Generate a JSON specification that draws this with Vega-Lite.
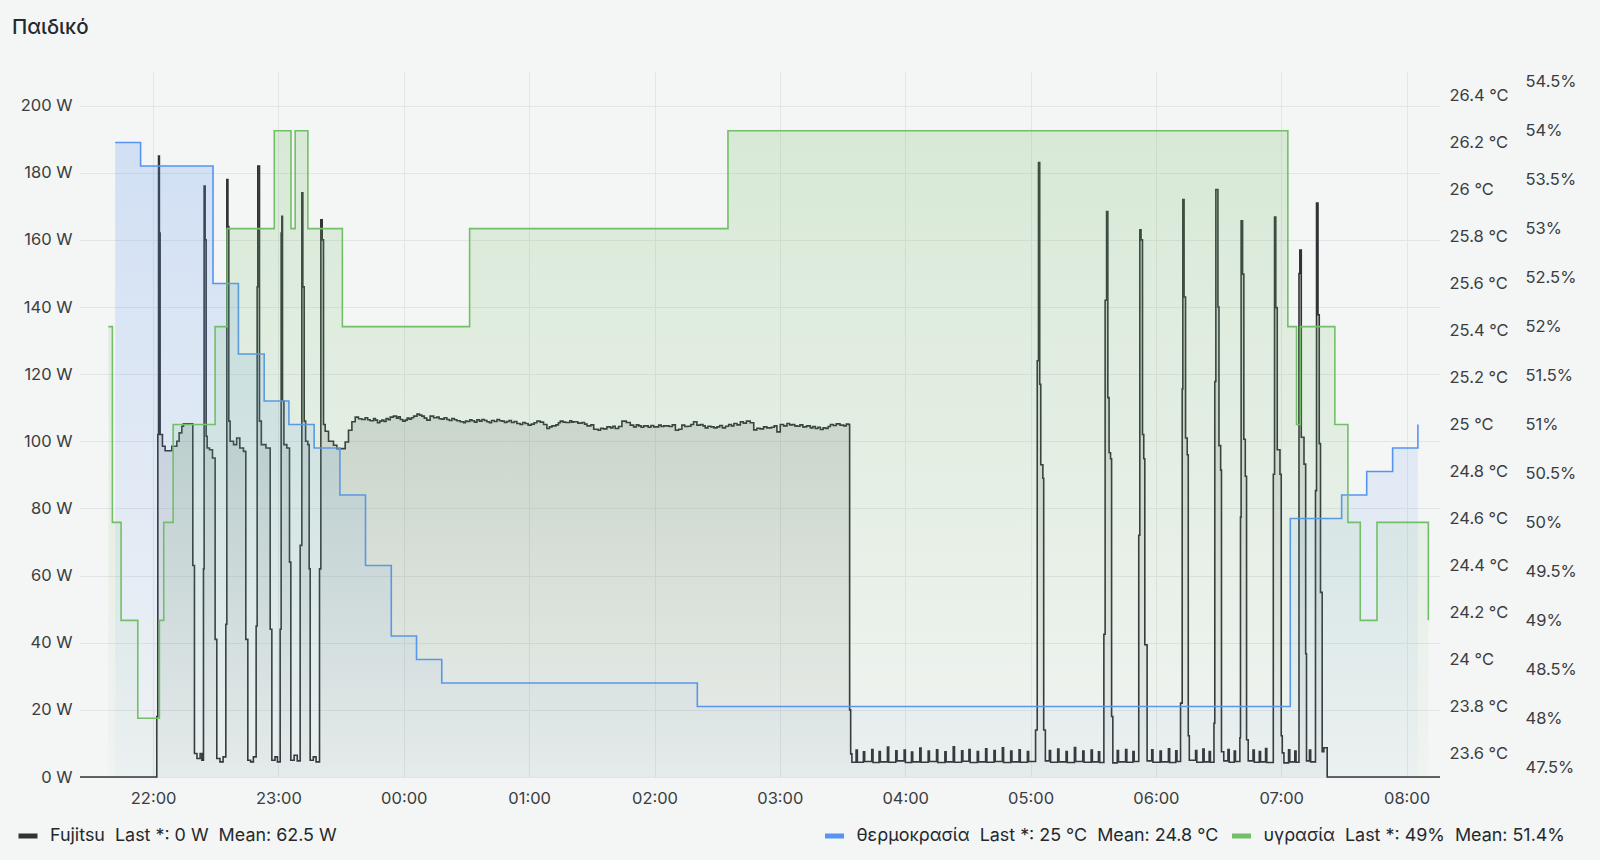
{
  "$schema": "https://vega.github.io/schema/vega-lite/v6.json",
  "width": 1360,
  "height": 705,
  "autosize": "none",
  "padding": {"left": 80, "top": 72, "right": 160, "bottom": 83},
  "background": "#f4f5f5",
  "title": {"text": "Παιδικό", "anchor": "start", "frame": "group", "dx": -68, "offset": 34, "fontSize": 20.5, "fontWeight": 500, "color": "#24292e", "font": "Inter"},
  "config": {
    "font": "Inter",
    "view": {"stroke": null},
    "axis": {"labelFont": "Inter", "labelFontSize": 16.5, "labelColor": "#3a3d41", "ticks": false, "domain": false, "gridColor": "#e3e4e5", "gridWidth": 1, "labelOverlap": false},
    "legend": {"labelFont": "Inter", "labelFontSize": 17.9, "labelColor": "#24292e", "labelLimit": 1000, "labelOffset": 10, "padding": 0, "symbolType": "stroke", "symbolStrokeWidth": 5, "symbolSize": 361, "direction": "horizontal"}
  },
  "layer": [
    {
      "data": {
        "values": [
{"t":"2024-01-01T21:25:00","w":0},{"t":"2024-01-01T22:01:45","w":18},{"t":"2024-01-01T22:02:15","w":102},{"t":"2024-01-01T22:02:36","w":185},{"t":"2024-01-01T22:03:00","w":162},{"t":"2024-01-01T22:03:21","w":102},{"t":"2024-01-01T22:04:28","w":98.5},{"t":"2024-01-01T22:05:45","w":97.2},{"t":"2024-01-01T22:08:56","w":98.5},{"t":"2024-01-01T22:11:20","w":100},{"t":"2024-01-01T22:12:27","w":102.5},{"t":"2024-01-01T22:13:44","w":104.5},{"t":"2024-01-01T22:14:32","w":105.2},{"t":"2024-01-01T22:19:00","w":63},{"t":"2024-01-01T22:19:47","w":7},{"t":"2024-01-01T22:21:00","w":5.5},{"t":"2024-01-01T22:22:30","w":7},{"t":"2024-01-01T22:23:20","w":5},
{"t":"2024-01-01T22:24:06","w":62},{"t":"2024-01-01T22:24:25","w":176},{"t":"2024-01-01T22:24:54","w":160},{"t":"2024-01-01T22:25:23","w":101.5},{"t":"2024-01-01T22:25:52","w":98},{"t":"2024-01-01T22:27:00","w":97.5},{"t":"2024-01-01T22:28:25","w":95},{"t":"2024-01-01T22:29:41","w":41},{"t":"2024-01-01T22:30:29","w":5.5},{"t":"2024-01-01T22:32:00","w":4.5},{"t":"2024-01-01T22:33:30","w":6},
{"t":"2024-01-01T22:34:48","w":45.5},{"t":"2024-01-01T22:35:17","w":178},{"t":"2024-01-01T22:35:48","w":164},{"t":"2024-01-01T22:36:14","w":106},{"t":"2024-01-01T22:36:52","w":100},{"t":"2024-01-01T22:38:30","w":99},{"t":"2024-01-01T22:40:00","w":101},{"t":"2024-01-01T22:41:30","w":98},{"t":"2024-01-01T22:43:16","w":97},{"t":"2024-01-01T22:44:22","w":41},{"t":"2024-01-01T22:45:20","w":5},{"t":"2024-01-01T22:46:40","w":4.5},{"t":"2024-01-01T22:48:00","w":6},
{"t":"2024-01-01T22:49:19","w":45},{"t":"2024-01-01T22:49:48","w":146},{"t":"2024-01-01T22:50:07","w":182},{"t":"2024-01-01T22:50:55","w":106},{"t":"2024-01-01T22:51:48","w":99},{"t":"2024-01-01T22:54:00","w":98},{"t":"2024-01-01T22:56:02","w":44},{"t":"2024-01-01T22:56:50","w":5},{"t":"2024-01-01T22:58:20","w":6},{"t":"2024-01-01T22:59:30","w":4.5},
{"t":"2024-01-01T23:00:49","w":44},{"t":"2024-01-01T23:01:17","w":162},{"t":"2024-01-01T23:01:37","w":167},{"t":"2024-01-01T23:01:56","w":112},{"t":"2024-01-01T23:02:36","w":99},{"t":"2024-01-01T23:04:00","w":98},{"t":"2024-01-01T23:05:17","w":64},{"t":"2024-01-01T23:05:55","w":5},{"t":"2024-01-01T23:07:30","w":6.5},{"t":"2024-01-01T23:09:00","w":4.8},
{"t":"2024-01-01T23:10:23","w":69},{"t":"2024-01-01T23:11:11","w":174},{"t":"2024-01-01T23:11:40","w":146},{"t":"2024-01-01T23:12:19","w":106},{"t":"2024-01-01T23:13:00","w":100},{"t":"2024-01-01T23:14:04","w":99},{"t":"2024-01-01T23:14:42","w":62},{"t":"2024-01-01T23:15:11","w":5},{"t":"2024-01-01T23:16:40","w":6},{"t":"2024-01-01T23:18:00","w":4.5},
{"t":"2024-01-01T23:19:39","w":62},{"t":"2024-01-01T23:20:17","w":166},{"t":"2024-01-01T23:20:56","w":160},{"t":"2024-01-01T23:21:34","w":105},{"t":"2024-01-01T23:22:22","w":103},{"t":"2024-01-01T23:23:58","w":100},{"t":"2024-01-01T23:26:21","w":98.8},{"t":"2024-01-01T23:27:57","w":97.8},{"t":"2024-01-01T23:31:56","w":99.8},{"t":"2024-01-01T23:33:31","w":103.3},{"t":"2024-01-01T23:35:09","w":105.8},{"t":"2024-01-01T23:36:44","w":107.2},
{"t":"2024-01-01T23:38:18","w":106.7},{"t":"2024-01-01T23:39:54","w":106.5},{"t":"2024-01-01T23:41:30","w":107.0},{"t":"2024-01-01T23:42:42","w":106.4},{"t":"2024-01-01T23:43:54","w":106.1},{"t":"2024-01-01T23:45:30","w":106.8},{"t":"2024-01-01T23:46:24","w":106.3},{"t":"2024-01-01T23:47:24","w":105.5},{"t":"2024-01-01T23:48:30","w":106.0},{"t":"2024-01-01T23:49:30","w":106.3},{"t":"2024-01-01T23:50:30","w":105.9},{"t":"2024-01-01T23:51:30","w":106.8},{"t":"2024-01-01T23:52:30","w":106.4},{"t":"2024-01-01T23:53:30","w":107.2},{"t":"2024-01-01T23:55:00","w":107.5},{"t":"2024-01-01T23:56:30","w":106.9},{"t":"2024-01-01T23:57:24","w":107.3},{"t":"2024-01-01T23:58:18","w":106.5},{"t":"2024-01-01T23:59:30","w":106.0},
{"t":"2024-01-02T00:00:42","w":106.3},{"t":"2024-01-02T00:01:36","w":106.9},{"t":"2024-01-02T00:02:30","w":106.6},{"t":"2024-01-02T00:03:36","w":107.0},{"t":"2024-01-02T00:04:42","w":107.5},{"t":"2024-01-02T00:06:18","w":108.1},{"t":"2024-01-02T00:07:30","w":107.8},{"t":"2024-01-02T00:08:36","w":107.5},{"t":"2024-01-02T00:09:48","w":106.9},{"t":"2024-01-02T00:11:00","w":106.3},{"t":"2024-01-02T00:12:36","w":107.5},{"t":"2024-01-02T00:14:18","w":107.0},{"t":"2024-01-02T00:15:48","w":107.2},{"t":"2024-01-02T00:16:54","w":106.7},{"t":"2024-01-02T00:18:00","w":106.6},{"t":"2024-01-02T00:19:18","w":107.0},{"t":"2024-01-02T00:20:36","w":106.5},{"t":"2024-01-02T00:21:48","w":106.2},{"t":"2024-01-02T00:23:00","w":106.8},{"t":"2024-01-02T00:24:12","w":106.4},{"t":"2024-01-02T00:25:24","w":106.1},{"t":"2024-01-02T00:27:00","w":105.8},{"t":"2024-01-02T00:28:36","w":105.5},{"t":"2024-01-02T00:29:30","w":106.0},{"t":"2024-01-02T00:30:30","w":105.9},{"t":"2024-01-02T00:31:36","w":106.4},{"t":"2024-01-02T00:32:36","w":106.1},{"t":"2024-01-02T00:33:48","w":105.7},{"t":"2024-01-02T00:35:00","w":106.4},{"t":"2024-01-02T00:36:12","w":106.0},{"t":"2024-01-02T00:37:24","w":106.5},{"t":"2024-01-02T00:38:36","w":106.2},{"t":"2024-01-02T00:39:48","w":105.8},{"t":"2024-01-02T00:41:00","w":105.5},{"t":"2024-01-02T00:42:00","w":106.2},{"t":"2024-01-02T00:43:18","w":105.9},{"t":"2024-01-02T00:44:36","w":106.5},{"t":"2024-01-02T00:45:48","w":106.1},{"t":"2024-01-02T00:47:00","w":106.0},{"t":"2024-01-02T00:48:12","w":105.6},{"t":"2024-01-02T00:49:18","w":105.9},{"t":"2024-01-02T00:50:24","w":106.2},{"t":"2024-01-02T00:51:30","w":105.6},{"t":"2024-01-02T00:52:48","w":105.9},{"t":"2024-01-02T00:54:06","w":105.3},{"t":"2024-01-02T00:55:42","w":105.0},{"t":"2024-01-02T00:56:54","w":105.6},{"t":"2024-01-02T00:58:06","w":105.3},{"t":"2024-01-02T00:59:30","w":104.8},
{"t":"2024-01-02T01:01:00","w":105.1},{"t":"2024-01-02T01:02:24","w":105.5},{"t":"2024-01-02T01:03:42","w":106.0},{"t":"2024-01-02T01:05:18","w":105.7},{"t":"2024-01-02T01:06:54","w":105.0},{"t":"2024-01-02T01:08:30","w":103.8},{"t":"2024-01-02T01:09:42","w":104.3},{"t":"2024-01-02T01:10:54","w":104.6},{"t":"2024-01-02T01:12:48","w":104.9},{"t":"2024-01-02T01:14:00","w":105.5},{"t":"2024-01-02T01:14:54","w":106.0},{"t":"2024-01-02T01:16:12","w":105.7},{"t":"2024-01-02T01:17:30","w":105.6},{"t":"2024-01-02T01:19:30","w":106.1},{"t":"2024-01-02T01:20:24","w":105.7},{"t":"2024-01-02T01:21:18","w":105.8},{"t":"2024-01-02T01:23:18","w":105.4},{"t":"2024-01-02T01:25:18","w":105.6},{"t":"2024-01-02T01:26:30","w":105.1},{"t":"2024-01-02T01:27:42","w":104.6},{"t":"2024-01-02T01:29:30","w":104.9},{"t":"2024-01-02T01:30:54","w":103.6},{"t":"2024-01-02T01:33:00","w":103.3},{"t":"2024-01-02T01:34:12","w":103.9},{"t":"2024-01-02T01:35:30","w":103.7},{"t":"2024-01-02T01:37:12","w":104.3},{"t":"2024-01-02T01:39:00","w":104.0},{"t":"2024-01-02T01:40:06","w":104.5},{"t":"2024-01-02T01:41:12","w":103.8},{"t":"2024-01-02T01:42:48","w":104.4},{"t":"2024-01-02T01:44:24","w":106.0},{"t":"2024-01-02T01:46:30","w":105.6},{"t":"2024-01-02T01:48:24","w":104.8},{"t":"2024-01-02T01:50:00","w":104.3},{"t":"2024-01-02T01:51:18","w":104.9},{"t":"2024-01-02T01:52:30","w":104.6},{"t":"2024-01-02T01:53:36","w":104.2},{"t":"2024-01-02T01:54:48","w":104.6},{"t":"2024-01-02T01:57:00","w":104.2},{"t":"2024-01-02T01:58:18","w":104.7},{"t":"2024-01-02T01:59:36","w":104.3},
{"t":"2024-01-02T02:02:00","w":104.8},{"t":"2024-01-02T02:03:12","w":104.4},{"t":"2024-01-02T02:04:24","w":104.6},{"t":"2024-01-02T02:07:00","w":104.4},{"t":"2024-01-02T02:08:30","w":104.9},{"t":"2024-01-02T02:10:00","w":103.3},{"t":"2024-01-02T02:11:30","w":103.6},{"t":"2024-01-02T02:13:06","w":104.8},{"t":"2024-01-02T02:14:30","w":104.4},{"t":"2024-01-02T02:16:00","w":104.5},{"t":"2024-01-02T02:17:24","w":105.0},{"t":"2024-01-02T02:18:42","w":105.8},{"t":"2024-01-02T02:20:18","w":104.8},{"t":"2024-01-02T02:22:00","w":105.0},{"t":"2024-01-02T02:23:12","w":104.6},{"t":"2024-01-02T02:24:18","w":104.0},{"t":"2024-01-02T02:25:36","w":104.5},{"t":"2024-01-02T02:27:00","w":104.3},{"t":"2024-01-02T02:28:30","w":104.0},{"t":"2024-01-02T02:29:54","w":104.3},{"t":"2024-01-02T02:31:12","w":104.7},{"t":"2024-01-02T02:32:30","w":104.0},{"t":"2024-01-02T02:34:00","w":104.5},{"t":"2024-01-02T02:35:30","w":105.0},{"t":"2024-01-02T02:36:48","w":104.6},{"t":"2024-01-02T02:38:00","w":105.3},{"t":"2024-01-02T02:39:30","w":104.9},{"t":"2024-01-02T02:41:06","w":105.8},{"t":"2024-01-02T02:42:30","w":105.4},{"t":"2024-01-02T02:44:00","w":106.0},{"t":"2024-01-02T02:45:48","w":105.5},{"t":"2024-01-02T02:47:30","w":103.4},{"t":"2024-01-02T02:49:00","w":103.9},{"t":"2024-01-02T02:50:30","w":103.7},{"t":"2024-01-02T02:52:12","w":104.3},{"t":"2024-01-02T02:53:48","w":104.0},{"t":"2024-01-02T02:56:00","w":104.2},{"t":"2024-01-02T02:57:18","w":104.6},{"t":"2024-01-02T02:58:36","w":102.8},
{"t":"2024-01-02T03:00:12","w":105.0},{"t":"2024-01-02T03:01:48","w":104.6},{"t":"2024-01-02T03:03:24","w":105.3},{"t":"2024-01-02T03:04:42","w":104.9},{"t":"2024-01-02T03:06:00","w":105.0},{"t":"2024-01-02T03:07:06","w":104.6},{"t":"2024-01-02T03:08:12","w":104.5},{"t":"2024-01-02T03:09:36","w":104.9},{"t":"2024-01-02T03:11:00","w":104.3},{"t":"2024-01-02T03:12:48","w":104.6},{"t":"2024-01-02T03:14:36","w":104.0},{"t":"2024-01-02T03:15:48","w":104.4},{"t":"2024-01-02T03:17:00","w":103.8},{"t":"2024-01-02T03:18:12","w":104.2},{"t":"2024-01-02T03:19:24","w":103.5},{"t":"2024-01-02T03:20:42","w":104.0},{"t":"2024-01-02T03:22:00","w":103.8},{"t":"2024-01-02T03:23:06","w":104.4},{"t":"2024-01-02T03:24:12","w":105.0},{"t":"2024-01-02T03:25:36","w":104.7},{"t":"2024-01-02T03:27:00","w":105.2},{"t":"2024-01-02T03:28:48","w":104.8},{"t":"2024-01-02T03:30:36","w":104.6},{"t":"2024-01-02T03:31:48","w":105.1},{"t":"2024-01-02T03:33:00","w":105.0},{"t":"2024-01-02T03:33:24","w":20},{"t":"2024-01-02T03:33:54","w":6.9},{"t":"2024-01-02T03:34:30","w":4.4},
{"t":"2024-01-02T03:36:30","w":8},{"t":"2024-01-02T03:37:06","w":4.4},{"t":"2024-01-02T03:40:00","w":7.5},{"t":"2024-01-02T03:40:36","w":4.6},{"t":"2024-01-02T03:44:00","w":8.2},{"t":"2024-01-02T03:44:36","w":4.3},{"t":"2024-01-02T03:47:30","w":7.6},{"t":"2024-01-02T03:48:06","w":4.5},{"t":"2024-01-02T03:51:30","w":8.9},{"t":"2024-01-02T03:52:06","w":4.4},{"t":"2024-01-02T03:55:30","w":7.8},{"t":"2024-01-02T03:56:06","w":4.8},{"t":"2024-01-02T03:59:30","w":8.0},{"t":"2024-01-02T04:00:06","w":4.3},{"t":"2024-01-02T04:03:00","w":7.4},{"t":"2024-01-02T04:03:36","w":4.5},{"t":"2024-01-02T04:07:00","w":8.6},{"t":"2024-01-02T04:07:36","w":4.4},{"t":"2024-01-02T04:11:00","w":7.7},{"t":"2024-01-02T04:11:36","w":4.6},{"t":"2024-01-02T04:15:00","w":8.1},{"t":"2024-01-02T04:15:36","w":4.3},{"t":"2024-01-02T04:19:00","w":7.5},{"t":"2024-01-02T04:19:36","w":4.5},{"t":"2024-01-02T04:23:00","w":9.0},{"t":"2024-01-02T04:23:36","w":4.4},{"t":"2024-01-02T04:27:00","w":7.8},{"t":"2024-01-02T04:27:36","w":4.7},{"t":"2024-01-02T04:30:30","w":8.2},{"t":"2024-01-02T04:31:06","w":4.3},{"t":"2024-01-02T04:34:30","w":7.6},{"t":"2024-01-02T04:35:06","w":4.5},{"t":"2024-01-02T04:38:30","w":8.4},{"t":"2024-01-02T04:39:06","w":4.4},{"t":"2024-01-02T04:42:30","w":7.9},{"t":"2024-01-02T04:43:06","w":4.6},{"t":"2024-01-02T04:46:30","w":8.7},{"t":"2024-01-02T04:47:06","w":4.3},{"t":"2024-01-02T04:50:30","w":7.7},{"t":"2024-01-02T04:51:06","w":4.5},{"t":"2024-01-02T04:54:30","w":8.1},{"t":"2024-01-02T04:55:06","w":4.4},{"t":"2024-01-02T04:58:30","w":7.6},{"t":"2024-01-02T04:59:06","w":4.6},
{"t":"2024-01-02T05:02:24","w":14},{"t":"2024-01-02T05:03:12","w":124},{"t":"2024-01-02T05:03:48","w":183},{"t":"2024-01-02T05:04:24","w":117},{"t":"2024-01-02T05:04:54","w":93},{"t":"2024-01-02T05:05:54","w":89},{"t":"2024-01-02T05:06:18","w":14},{"t":"2024-01-02T05:07:06","w":4.8},
{"t":"2024-01-02T05:09:00","w":7.9},{"t":"2024-01-02T05:09:36","w":4.4},{"t":"2024-01-02T05:13:00","w":8.3},{"t":"2024-01-02T05:13:36","w":4.5},{"t":"2024-01-02T05:17:00","w":7.6},{"t":"2024-01-02T05:17:36","w":4.3},{"t":"2024-01-02T05:21:00","w":8.8},{"t":"2024-01-02T05:21:36","w":4.6},{"t":"2024-01-02T05:25:00","w":7.7},{"t":"2024-01-02T05:25:36","w":4.4},{"t":"2024-01-02T05:29:00","w":8.0},{"t":"2024-01-02T05:29:36","w":4.5},{"t":"2024-01-02T05:32:30","w":7.5},{"t":"2024-01-02T05:33:06","w":4.3},
{"t":"2024-01-02T05:35:06","w":42.5},{"t":"2024-01-02T05:35:42","w":142},{"t":"2024-01-02T05:36:24","w":168.4},{"t":"2024-01-02T05:37:00","w":113},{"t":"2024-01-02T05:37:36","w":96.6},{"t":"2024-01-02T05:38:18","w":94.8},{"t":"2024-01-02T05:38:48","w":18},{"t":"2024-01-02T05:39:24","w":4.2},
{"t":"2024-01-02T05:41:30","w":7.9},{"t":"2024-01-02T05:42:06","w":4.5},{"t":"2024-01-02T05:45:30","w":8.2},{"t":"2024-01-02T05:46:06","w":4.4},{"t":"2024-01-02T05:49:00","w":7.6},{"t":"2024-01-02T05:49:36","w":4.6},
{"t":"2024-01-02T05:51:48","w":72},{"t":"2024-01-02T05:52:18","w":163},{"t":"2024-01-02T05:52:54","w":160},{"t":"2024-01-02T05:53:36","w":102},{"t":"2024-01-02T05:54:12","w":94.8},{"t":"2024-01-02T05:54:42","w":39.4},{"t":"2024-01-02T05:55:48","w":4.8},
{"t":"2024-01-02T05:58:00","w":8.1},{"t":"2024-01-02T05:58:36","w":4.4},{"t":"2024-01-02T06:02:00","w":7.7},{"t":"2024-01-02T06:02:36","w":4.5},{"t":"2024-01-02T06:06:00","w":8.4},{"t":"2024-01-02T06:06:36","w":4.3},{"t":"2024-01-02T06:09:30","w":7.8},{"t":"2024-01-02T06:10:06","w":4.6},
{"t":"2024-01-02T06:11:48","w":22},{"t":"2024-01-02T06:12:36","w":115.6},{"t":"2024-01-02T06:12:54","w":172},{"t":"2024-01-02T06:13:30","w":143},{"t":"2024-01-02T06:14:12","w":101},{"t":"2024-01-02T06:15:00","w":96},{"t":"2024-01-02T06:15:30","w":12.3},{"t":"2024-01-02T06:16:00","w":5},
{"t":"2024-01-02T06:19:00","w":7.9},{"t":"2024-01-02T06:19:36","w":4.4},{"t":"2024-01-02T06:22:30","w":8.3},{"t":"2024-01-02T06:23:06","w":4.5},{"t":"2024-01-02T06:25:30","w":7.6},{"t":"2024-01-02T06:26:06","w":4.4},
{"t":"2024-01-02T06:27:48","w":16},{"t":"2024-01-02T06:28:12","w":117.8},{"t":"2024-01-02T06:28:42","w":175},{"t":"2024-01-02T06:29:42","w":140},{"t":"2024-01-02T06:30:12","w":98.7},{"t":"2024-01-02T06:31:00","w":91.4},{"t":"2024-01-02T06:31:24","w":7.5},{"t":"2024-01-02T06:32:30","w":4.8},
{"t":"2024-01-02T06:34:30","w":8.2},{"t":"2024-01-02T06:35:06","w":4.4},{"t":"2024-01-02T06:37:30","w":7.7},{"t":"2024-01-02T06:38:06","w":4.6},
{"t":"2024-01-02T06:40:12","w":11.7},{"t":"2024-01-02T06:40:30","w":77.4},{"t":"2024-01-02T06:40:48","w":165.7},{"t":"2024-01-02T06:41:30","w":149.8},{"t":"2024-01-02T06:42:06","w":100.6},{"t":"2024-01-02T06:42:48","w":89.6},{"t":"2024-01-02T06:43:24","w":11.1},{"t":"2024-01-02T06:44:12","w":4.8},
{"t":"2024-01-02T06:46:30","w":8.0},{"t":"2024-01-02T06:47:06","w":4.4},{"t":"2024-01-02T06:49:30","w":7.6},{"t":"2024-01-02T06:50:06","w":4.5},{"t":"2024-01-02T06:52:30","w":8.5},{"t":"2024-01-02T06:53:06","w":4.3},
{"t":"2024-01-02T06:56:12","w":90.2},{"t":"2024-01-02T06:56:48","w":166.8},{"t":"2024-01-02T06:57:24","w":139.8},{"t":"2024-01-02T06:58:06","w":97.5},{"t":"2024-01-02T06:59:24","w":90.2},{"t":"2024-01-02T07:00:00","w":12.3},{"t":"2024-01-02T07:00:30","w":7.2},{"t":"2024-01-02T07:01:18","w":4.2},
{"t":"2024-01-02T07:03:30","w":8.1},{"t":"2024-01-02T07:04:06","w":4.5},{"t":"2024-01-02T07:06:30","w":7.7},{"t":"2024-01-02T07:07:06","w":4.4},
{"t":"2024-01-02T07:08:30","w":150},{"t":"2024-01-02T07:08:54","w":157},{"t":"2024-01-02T07:09:36","w":101.2},{"t":"2024-01-02T07:10:54","w":93.2},{"t":"2024-01-02T07:11:42","w":36.7},{"t":"2024-01-02T07:12:06","w":4.8},
{"t":"2024-01-02T07:13:30","w":8.0},{"t":"2024-01-02T07:14:06","w":4.5},
{"t":"2024-01-02T07:16:24","w":85.3},{"t":"2024-01-02T07:16:54","w":171},{"t":"2024-01-02T07:17:36","w":137.7},{"t":"2024-01-02T07:18:12","w":99.3},{"t":"2024-01-02T07:18:48","w":55},{"t":"2024-01-02T07:19:36","w":7.5},{"t":"2024-01-02T07:20:24","w":8.7},{"t":"2024-01-02T07:22:00","w":0},{"t":"2024-01-02T08:16:00","w":0}
        ]
      },
      "layer": [
        {
          "mark": {"type": "area", "interpolate": "step-after", "opacity": 1, "clip": true,
            "color": {"gradient": "linear", "x1": 0, "y1": 0, "x2": 0, "y2": 1, "stops": [{"offset": 0, "color": "rgba(48,51,54,0.22)"}, {"offset": 1, "color": "rgba(48,51,54,0.03)"}]}},
          "encoding": {
            "x": {"field": "t", "type": "temporal", "scale": {"nice": false},
              "axis": {"title": null, "grid": true, "format": "%H:%M", "labelPadding": 13.5, "labelFlush": false,
                "values": [{"year": 2024, "month": 1, "date": 1, "hours": 22}, {"year": 2024, "month": 1, "date": 1, "hours": 23}, {"year": 2024, "month": 1, "date": 2, "hours": 0}, {"year": 2024, "month": 1, "date": 2, "hours": 1}, {"year": 2024, "month": 1, "date": 2, "hours": 2}, {"year": 2024, "month": 1, "date": 2, "hours": 3}, {"year": 2024, "month": 1, "date": 2, "hours": 4}, {"year": 2024, "month": 1, "date": 2, "hours": 5}, {"year": 2024, "month": 1, "date": 2, "hours": 6}, {"year": 2024, "month": 1, "date": 2, "hours": 7}, {"year": 2024, "month": 1, "date": 2, "hours": 8}]}},
            "y": {"field": "w", "type": "quantitative", "scale": {"domain": [0, 210], "nice": false},
              "axis": {"title": null, "orient": "left", "values": [0, 20, 40, 60, 80, 100, 120, 140, 160, 180, 200], "labelExpr": "datum.value + ' W'", "grid": true, "labelPadding": 8}}
          }
        },
        {
          "mark": {"type": "line", "interpolate": "step-after", "strokeWidth": 1.6},
          "encoding": {
            "x": {"field": "t", "type": "temporal"},
            "y": {"field": "w", "type": "quantitative"},
            "color": {"datum": "Fujitsu\u00a0\u00a0Last *: 0 W\u00a0\u00a0Mean: 62.5 W", "type": "nominal",
              "scale": {"domain": ["Fujitsu\u00a0\u00a0Last *: 0 W\u00a0\u00a0Mean: 62.5 W"], "range": ["#303336"]},
              "legend": {"title": null, "orient": "none", "legendX": -64, "legendY": 752}}
          }
        }
      ]
    },
    {
      "layer": [
        {
          "data": {
            "values": [
{"t":"2024-01-01T21:41:50","v":26.2},{"t":"2024-01-01T21:54:00","v":26.1},{"t":"2024-01-01T22:28:40","v":25.6},{"t":"2024-01-01T22:40:50","v":25.3},{"t":"2024-01-01T22:53:10","v":25.1},{"t":"2024-01-01T23:05:00","v":25.0},{"t":"2024-01-01T23:17:05","v":24.9},{"t":"2024-01-01T23:29:25","v":24.7},{"t":"2024-01-01T23:41:40","v":24.4},{"t":"2024-01-01T23:54:00","v":24.1},{"t":"2024-01-02T00:06:05","v":24.0},{"t":"2024-01-02T00:18:10","v":23.9},{"t":"2024-01-02T02:20:30","v":23.8},{"t":"2024-01-02T07:04:20","v":24.6},{"t":"2024-01-02T07:28:55","v":24.7},{"t":"2024-01-02T07:40:55","v":24.8},{"t":"2024-01-02T07:53:20","v":24.9},{"t":"2024-01-02T08:05:25","v":25.0}
            ]
          },
          "layer": [
            {
              "mark": {"type": "area", "interpolate": "step-after", "opacity": 1, "clip": true,
                "color": {"gradient": "linear", "x1": 0, "y1": 0, "x2": 0, "y2": 1, "stops": [{"offset": 0, "color": "rgba(87,148,242,0.22)"}, {"offset": 1, "color": "rgba(87,148,242,0.03)"}]}},
              "encoding": {
                "x": {"field": "t", "type": "temporal"},
                "y": {"field": "v", "type": "quantitative", "scale": {"domain": [23.5, 26.5], "nice": false, "zero": false},
                  "axis": {"title": null, "orient": "right", "offset": 0, "values": [23.6, 23.8, 24, 24.2, 24.4, 24.6, 24.8, 25, 25.2, 25.4, 25.6, 25.8, 26, 26.2, 26.4], "labelExpr": "format(datum.value, '.1~f') + ' °C'", "grid": false, "labelPadding": 9, "labelAlign": "left"}},
                "y2": {"datum": 23.5}
              }
            },
            {
              "mark": {"type": "line", "interpolate": "step-after", "strokeWidth": 1.6},
              "encoding": {
                "x": {"field": "t", "type": "temporal"},
                "y": {"field": "v", "type": "quantitative"},
                "color": {"datum": "θερμοκρασία\u00a0\u00a0Last *: 25 °C\u00a0\u00a0Mean: 24.8 °C", "type": "nominal",
                  "scale": {"domain": ["θερμοκρασία\u00a0\u00a0Last *: 25 °C\u00a0\u00a0Mean: 24.8 °C", "υγρασία\u00a0\u00a0Last *: 49%\u00a0\u00a0Mean: 51.4%"], "range": ["#5794F2", "#73BF69"]},
                  "legend": {"title": null, "orient": "none", "legendX": 742.5, "legendY": 752, "columnPadding": 3}}
              }
            }
          ]
        },
        {
          "data": {
            "values": [
{"t":"2024-01-01T21:38:35","v":52.0},{"t":"2024-01-01T21:40:30","v":50.0},{"t":"2024-01-01T21:44:40","v":49.0},{"t":"2024-01-01T21:52:40","v":48.0},{"t":"2024-01-01T22:03:00","v":49.0},{"t":"2024-01-01T22:05:05","v":50.0},{"t":"2024-01-01T22:09:35","v":51.0},{"t":"2024-01-01T22:29:40","v":52.0},{"t":"2024-01-01T22:35:25","v":53.0},{"t":"2024-01-01T22:58:00","v":54.0},{"t":"2024-01-01T23:06:00","v":53.0},{"t":"2024-01-01T23:08:00","v":54.0},{"t":"2024-01-01T23:14:05","v":53.0},{"t":"2024-01-01T23:30:35","v":52.0},{"t":"2024-01-02T00:31:30","v":53.0},{"t":"2024-01-02T02:35:10","v":54.0},{"t":"2024-01-02T07:03:10","v":52.0},{"t":"2024-01-02T07:07:20","v":51.0},{"t":"2024-01-02T07:09:10","v":52.0},{"t":"2024-01-02T07:25:40","v":51.0},{"t":"2024-01-02T07:31:55","v":50.0},{"t":"2024-01-02T07:37:50","v":49.0},{"t":"2024-01-02T07:45:50","v":50.0},{"t":"2024-01-02T08:10:25","v":49.0}
            ]
          },
          "layer": [
            {
              "mark": {"type": "area", "interpolate": "step-after", "opacity": 1, "clip": true,
                "color": {"gradient": "linear", "x1": 0, "y1": 0, "x2": 0, "y2": 1, "stops": [{"offset": 0, "color": "rgba(115,191,105,0.22)"}, {"offset": 1, "color": "rgba(115,191,105,0.03)"}]}},
              "encoding": {
                "x": {"field": "t", "type": "temporal"},
                "y": {"field": "v", "type": "quantitative", "scale": {"domain": [47.4, 54.6], "nice": false, "zero": false},
                  "axis": {"title": null, "orient": "right", "offset": 76, "values": [47.5, 48, 48.5, 49, 49.5, 50, 50.5, 51, 51.5, 52, 52.5, 53, 53.5, 54, 54.5], "labelExpr": "format(datum.value, '.1~f') + '%'", "grid": false, "labelPadding": 9, "labelAlign": "left"}},
                "y2": {"datum": 47.4}
              }
            },
            {
              "mark": {"type": "line", "interpolate": "step-after", "strokeWidth": 1.6},
              "encoding": {
                "x": {"field": "t", "type": "temporal"},
                "y": {"field": "v", "type": "quantitative"},
                "color": {"datum": "υγρασία\u00a0\u00a0Last *: 49%\u00a0\u00a0Mean: 51.4%", "type": "nominal",
                  "scale": {"domain": ["θερμοκρασία\u00a0\u00a0Last *: 25 °C\u00a0\u00a0Mean: 24.8 °C", "υγρασία\u00a0\u00a0Last *: 49%\u00a0\u00a0Mean: 51.4%"], "range": ["#5794F2", "#73BF69"]},
                  "legend": {"title": null, "orient": "none", "legendX": 742.5, "legendY": 752, "columnPadding": 3}}
              }
            }
          ]
        }
      ],
      "resolve": {"scale": {"y": "independent"}}
    }
  ],
  "resolve": {"scale": {"y": "independent", "color": "independent"}}
}
